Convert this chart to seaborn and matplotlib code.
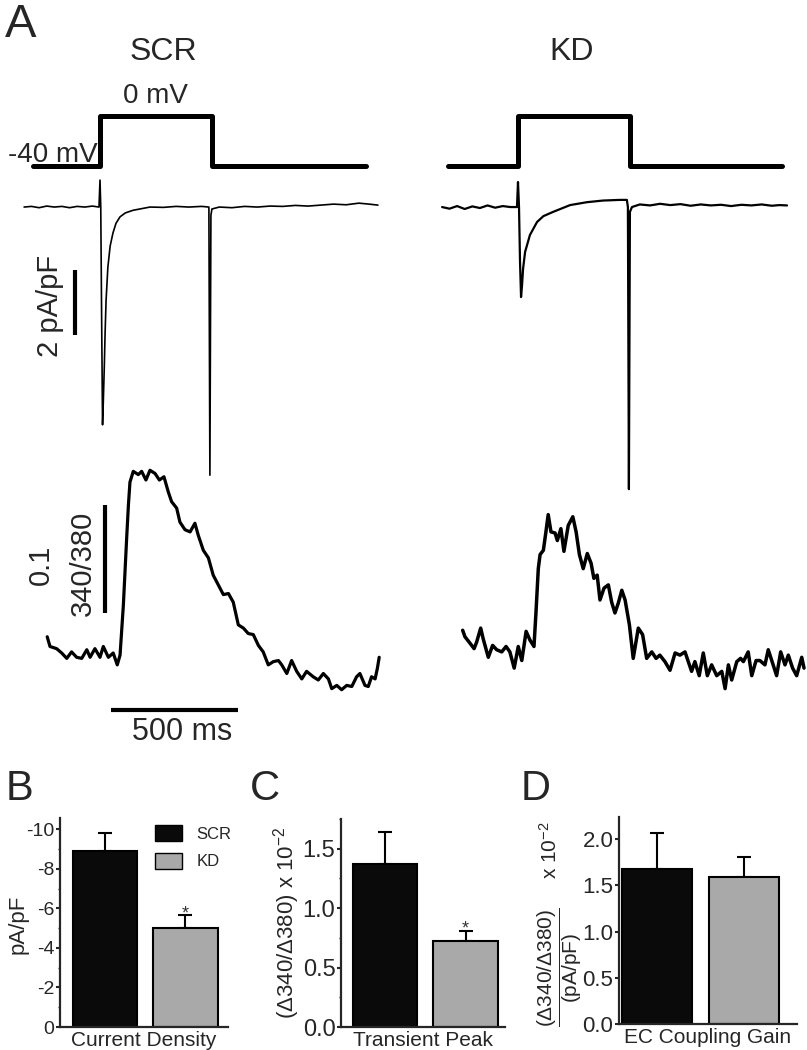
import matplotlib
matplotlib.use("Agg")
import matplotlib.pyplot as plt
import seaborn as sns
import pandas as pd
from matplotlib.patches import Patch
from matplotlib.ticker import FormatStrFormatter, MultipleLocator

# ---- data ----
groups = ["SCR", "KD"]
bar_colors = ["#0a0a0a", "#a9a9a9"]

current_density = [-8.9, -5.0]          # pA/pF
current_density_sem = [0.9, 0.65]
transient_peak = [1.37, 0.72]           # (d340/d380) x 1e-2
transient_peak_sem = [0.27, 0.09]
ec_gain = [1.68, 1.59]
ec_gain_sem = [0.39, 0.22]

# voltage protocol (ms, mV)
scr_v_t = [-264, 0, 0, 440, 440, 1048]
kd_v_t = [-276, 0, 0, 440, 440, 1040]
step_mv = [-40, -40, 0, 0, -40, -40]

# current traces (ms, pA/pF)
scr_i_t = [-299, -270, -240, -210, -180, -150, -120, -90, -60, -30, -4, 0, 3, 6, 10, 13, 17, 20,
           24, 31, 40, 51, 63, 79, 100, 130, 197, 250, 300, 350, 400, 429, 433, 437, 441, 470,
           520, 570, 620, 670, 720, 770, 820, 870, 920, 970, 1020, 1060, 1095]
scr_i = [0.0, 0.02, -0.02, 0.03, 0.0, 0.02, -0.02, 0.02, 0.0, 0.03, 0.0, 0.83, 0.0, -3.0, -6.7, -6.0,
         -4.9, -3.9, -2.86, -1.85, -1.2, -0.8, -0.5, -0.3, -0.18, -0.1, 0.0, -0.01, 0.02, 0.0, 0.02,
         0.0, -8.25, -0.25, -0.06, 0.0, -0.02, 0.02, 0.0, 0.03, 0.02, 0.05, 0.03, 0.06, 0.09, 0.07,
         0.12, 0.09, 0.06]
kd_i_t = [-299, -270, -240, -210, -180, -150, -120, -90, -60, -30, -4, 0, 4, 8, 12, 16, 20, 28, 47,
          75, 100, 138, 205, 272, 335, 400, 429, 433, 437, 441, 449, 480, 520, 560, 600, 640, 680,
          720, 760, 800, 840, 880, 920, 960, 1000, 1030, 1060]
kd_i = [0.0, -0.05, 0.03, -0.06, 0.02, -0.03, 0.05, -0.02, 0.03, 0.0, 0.0, 0.77, 0.0, -1.69, -2.77,
        -2.4, -1.9, -1.38, -0.86, -0.46, -0.28, -0.15, 0.06, 0.15, 0.2, 0.22, 0.22, 0.0, -8.68,
        -0.15, 0.0, 0.08, 0.05, 0.1, 0.06, 0.09, 0.04, 0.08, 0.05, 0.07, 0.03, 0.07, 0.05, 0.08,
        0.04, 0.06, 0.05]

# calcium transients (ms, delta 340/380)
scr_ca_t = [-208, -197, -171, -151, -131, -112, -92, -72, -52, -39, -20, 0, 13, 33, 52, 68, 79, 92,
            105, 112, 118, 131, 151, 164, 181, 197, 217, 234, 252, 269, 282, 302, 315, 335, 355,
            374, 387, 407, 427, 446, 466, 486, 506, 525, 545, 565, 584, 604, 624, 643, 663, 683,
            703, 716, 736, 755, 775, 795, 814, 840, 860, 880, 900, 913, 933, 952, 972, 992, 1011,
            1024, 1044, 1057, 1070, 1084, 1093, 1100]
scr_ca = [0.017, 0.008, 0.006, 0.002, -0.003, 0.003, -0.002, -0.003, 0.005, -0.002, 0.006, -0.002,
          0.008, -0.002, 0.002, -0.009, 0.0, 0.046, 0.108, 0.139, 0.160, 0.170, 0.167, 0.170,
          0.162, 0.171, 0.168, 0.162, 0.165, 0.151, 0.142, 0.136, 0.123, 0.116, 0.114, 0.122,
          0.111, 0.097, 0.090, 0.074, 0.065, 0.056, 0.057, 0.049, 0.028, 0.025, 0.020, 0.019,
          0.009, 0.003, -0.009, -0.006, -0.005, -0.009, -0.017, -0.005, -0.015, -0.022, -0.015,
          -0.020, -0.023, -0.017, -0.022, -0.031, -0.028, -0.032, -0.028, -0.029, -0.020, -0.017,
          -0.028, -0.029, -0.020, -0.022, -0.012, -0.002]
kd_ca_t = [-218, -209, -189, -173, -163, -147, -137, -117, -100, -84, -64, -47, -32, -15, 1, 15,
           32, 47, 63, 71, 80, 87, 100, 110, 119, 130, 146, 155, 169, 181, 198, 216, 229, 242,
           257, 273, 288, 299, 312, 323, 339, 356, 369, 382, 395, 409, 422, 439, 454, 474, 491,
           507, 527, 544, 559, 579, 599, 619, 638, 658, 671, 684, 697, 714, 730, 746, 763, 783,
           803, 816, 829, 842, 862, 877, 888, 907, 921, 938, 953, 973, 986, 1004, 1019, 1035,
           1052, 1065, 1082, 1098, 1118, 1127]
kd_ca = [0.023, 0.017, 0.011, 0.006, 0.012, 0.025, 0.015, -0.002, 0.009, 0.005, 0.003, 0.008,
         0.003, -0.012, 0.008, -0.005, 0.022, 0.014, 0.008, 0.040, 0.080, 0.093, 0.097, 0.114,
         0.130, 0.114, 0.113, 0.106, 0.117, 0.096, 0.120, 0.128, 0.114, 0.093, 0.080, 0.094,
         0.085, 0.071, 0.074, 0.051, 0.062, 0.065, 0.049, 0.039, 0.048, 0.060, 0.051, 0.028,
         -0.003, 0.025, 0.019, -0.003, 0.003, -0.003, 0.0, -0.006, -0.014, 0.002, 0.0, 0.003,
         -0.006, -0.015, -0.006, -0.019, 0.002, -0.019, -0.009, -0.019, -0.015, -0.031, -0.009,
         -0.023, -0.006, -0.003, -0.006, 0.003, -0.019, -0.005, -0.005, -0.009, 0.005, -0.008,
         -0.019, 0.003, -0.009, 0.0, -0.012, -0.019, -0.002, -0.012]

# ---- style ----
sns.set_style("ticks")
plt.rcParams["font.family"] = ["Liberation Sans", "DejaVu Sans"]
plt.rcParams["mathtext.fontset"] = "custom"
plt.rcParams["mathtext.rm"] = "Liberation Sans"
plt.rcParams["mathtext.it"] = "Liberation Sans:italic"
plt.rcParams["axes.unicode_minus"] = False

W, H = 807, 1050
fig = plt.figure(figsize=(W / 100, H / 100), dpi=100)


def add_ax(left, top, right, bottom):
    return fig.add_axes([left / W, 1 - bottom / H, (right - left) / W, (bottom - top) / H])


def ftext(x, y, s, **kw):
    return fig.text(x / W, 1 - y / H, s, **kw)


def trace(ax, t, v, lw):
    sns.lineplot(x=t, y=v, ax=ax, color="black", linewidth=lw, estimator=None, sort=False)


# ---- panel A: traces ----
cols = {"SCR": (0, 400, (-394, 1182)), "KD": (410, 807, (-425.5, 1138.7))}
trace_axes = {}
for name, (l, r, xl) in cols.items():
    av = add_ax(l, 100, r, 185)
    ai = add_ax(l, 170, r, 495)
    ac = add_ax(l, 440, r, 760)
    av.set_ylim(-55.2, 12.8)
    ai.set_ylim(-8.86, 1.14)
    ac.set_ylim(-0.097, 0.199)
    for a in (av, ai, ac):
        a.set_xlim(*xl)
        a.axis("off")
        a.patch.set_alpha(0)
    trace_axes[name] = (av, ai, ac)

av, ai, ac = trace_axes["SCR"]
trace(av, scr_v_t, step_mv, 3.6)
trace(ai, scr_i_t, scr_i, 1.2)
trace(ac, scr_ca_t, scr_ca, 2.3)
# scale bars
ai.plot([-98, -98], [-1.94, -3.94], color="black", lw=3, solid_capstyle="butt")
ac.plot([20, 20], [0.139, 0.039], color="black", lw=3, solid_capstyle="butt")
ac.plot([43, 543], [-0.051, -0.051], color="black", lw=3, solid_capstyle="butt")

av, ai, ac = trace_axes["KD"]
trace(av, kd_v_t, step_mv, 3.6)
trace(ai, kd_i_t, kd_i, 1.6)
trace(ac, kd_ca_t, kd_ca, 2.5)

ftext(5, 37, "A", fontsize=34, va="baseline")
ftext(163, 52, "SCR", fontsize=23, ha="center", va="center")
ftext(572, 52, "KD", fontsize=23, ha="center", va="center")
ftext(155, 96, "0 mV", fontsize=20, ha="center", va="center")
ftext(98, 162, "-40 mV", fontsize=20, ha="right", va="baseline")
ftext(50, 306, "2 pA/pF", fontsize=21, rotation=90, ha="center", va="center")
ftext(41, 565, "0.1", fontsize=21, rotation=90, ha="center", va="center")
ftext(83, 563, "340/380", fontsize=21, rotation=90, ha="center", va="center")
ftext(182, 732, "500 ms", fontsize=22, ha="center", va="center")


# ---- panels B-D: bars ----
def bar_panel(ax, vals, sems, xlim, ylim, tick_size, xlabel):
    df = pd.DataFrame({"group": groups, "value": vals})
    sns.barplot(data=df, x="group", y="value", hue="group", palette=bar_colors, width=0.8,
                edgecolor="black", linewidth=1.5, legend=False, ax=ax)
    neg = vals[0] < 0
    yerr = [sems, [0, 0]] if neg else [[0, 0], sems]
    ax.errorbar([0, 1], vals, yerr=yerr, fmt="none", ecolor="black", elinewidth=1.5,
                capsize=5, capthick=1.5, zorder=0)
    ax.set_xlim(*xlim)
    ax.set_ylim(*ylim)
    ax.set_xticks([])
    ax.set_ylabel("")
    ax.set_xlabel(xlabel, fontsize=15, labelpad=3)
    sns.despine(ax=ax)
    for s in ("left", "bottom"):
        ax.spines[s].set_linewidth(1.6)
    ax.tick_params(axis="y", labelsize=tick_size, length=3, width=1.5, pad=1)
    ax.tick_params(axis="y", which="minor", length=1.5, width=1)
    ax.patch.set_alpha(0)


axB = add_ax(60, 818, 228, 1027)
bar_panel(axB, current_density, current_density_sem, (-0.56, 1.53), (0, -10.58), 14,
          "Current Density")
axB.set_yticks([0, -2, -4, -6, -8, -10])
axB.yaxis.set_minor_locator(MultipleLocator(1))
axB.text(1, -5.5, "*", fontsize=13, ha="center", va="baseline", color="#333333")
axB.legend(handles=[Patch(facecolor=c, edgecolor="black", lw=1) for c in bar_colors],
           labels=groups, loc="upper left", bbox_to_anchor=((155 - 60) / 168, (1027 - 825) / 209),
           frameon=False, fontsize=12, handlelength=1.6, handleheight=1.1, labelspacing=0.65,
           handletextpad=0.9, borderpad=0, borderaxespad=0)
ftext(18, 924, "pA/pF", fontsize=16, rotation=90, ha="center", va="center")

axC = add_ax(341, 819, 505, 1027)
bar_panel(axC, transient_peak, transient_peak_sem, (-0.547, 1.49), (0, 1.75), 17,
          "Transient Peak")
axC.set_yticks([0, 0.5, 1.0, 1.5])
axC.yaxis.set_major_formatter(FormatStrFormatter("%.1f"))
axC.yaxis.set_minor_locator(MultipleLocator(0.25))
axC.text(1, 0.79, "*", fontsize=13, ha="center", va="baseline", color="#333333")
ftext(287, 923, "(\u0394340/\u0394380) x 10$^{-2}$", fontsize=16, rotation=90,
      ha="center", va="center")

axD = add_ax(619, 817, 797, 1024)
bar_panel(axD, ec_gain, ec_gain_sem, (-0.437, 1.61), (0, 2.24), 16, "EC Coupling Gain")
axD.set_yticks([0, 0.5, 1.0, 1.5, 2.0])
axD.yaxis.set_major_formatter(FormatStrFormatter("%.1f"))
ftext(560, 967, r"$\dfrac{(\Delta340/\Delta380)}{(\mathrm{pA/pF})}$", fontsize=15, rotation=90,
      ha="center", va="center")
ftext(550, 850, "x 10$^{-2}$", fontsize=15, rotation=90, ha="center", va="center")

ftext(6, 800, "B", fontsize=30, va="baseline")
ftext(250, 800, "C", fontsize=30, va="baseline")
ftext(521, 800, "D", fontsize=30, va="baseline")

fig.savefig("out.png", dpi=100)
